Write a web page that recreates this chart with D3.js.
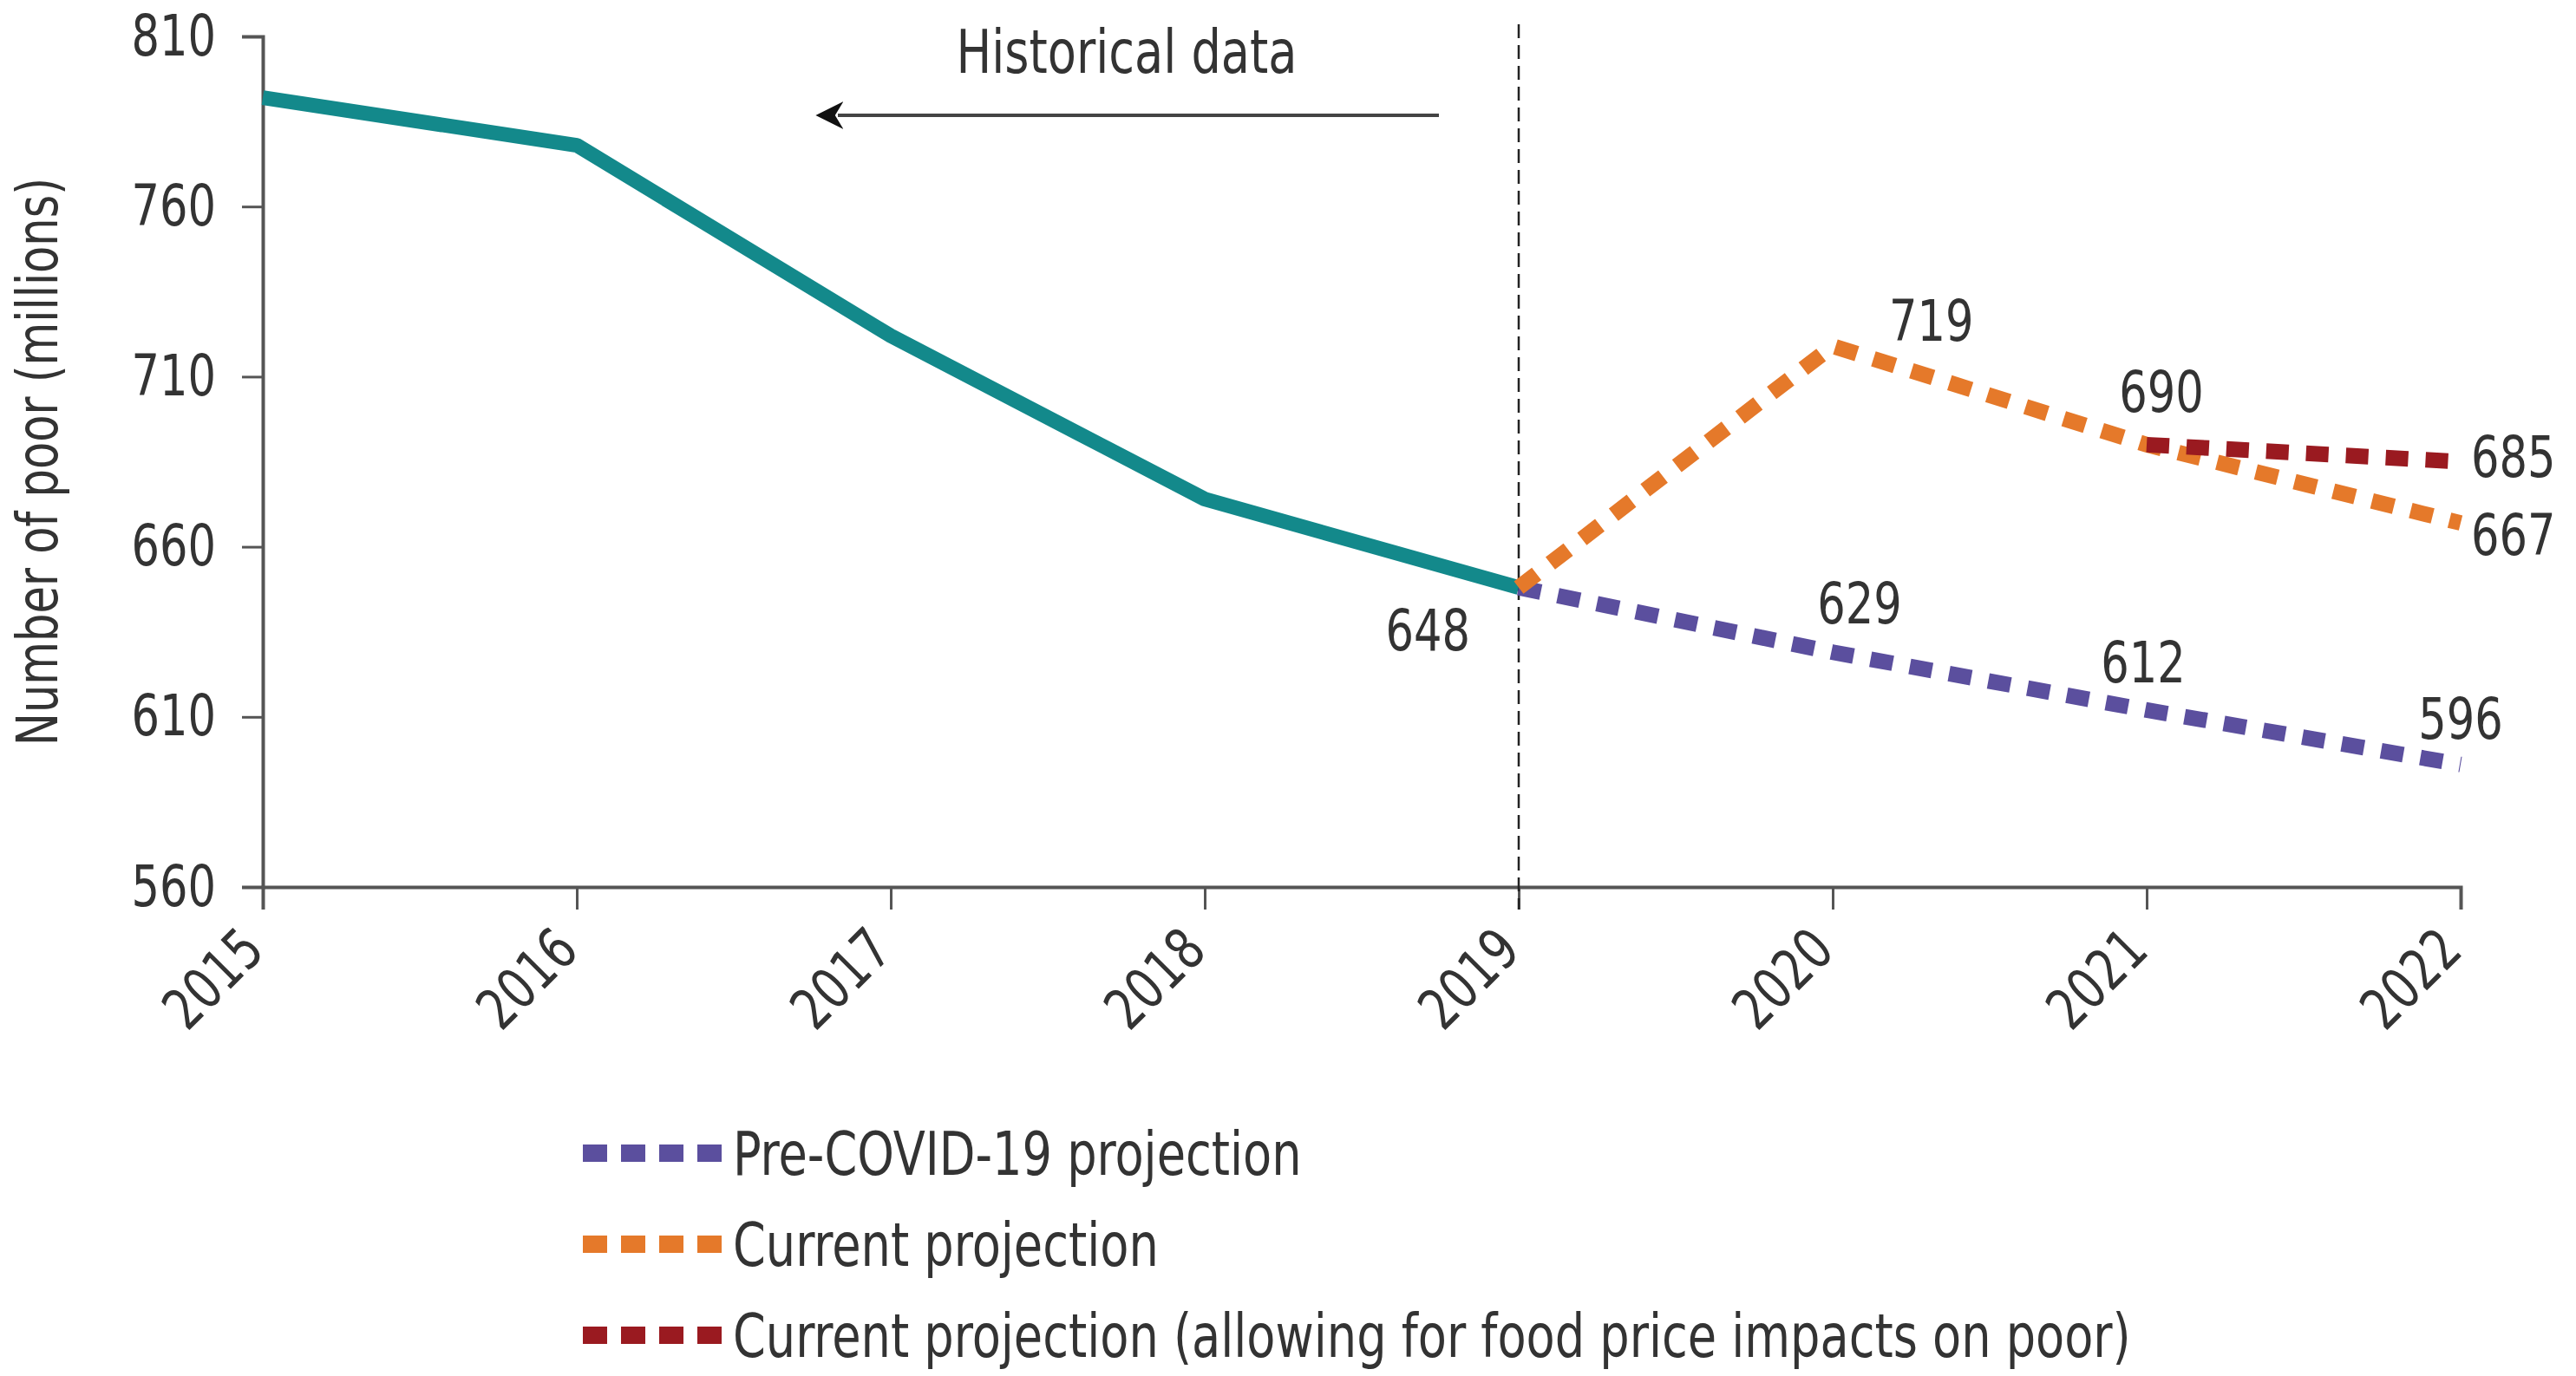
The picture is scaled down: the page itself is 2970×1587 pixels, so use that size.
<!DOCTYPE html>
<html>
<head>
<meta charset="utf-8">
<script src="https://cdn.jsdelivr.net/npm/d3@7"></script>
<style>
  body { margin: 0; background: #fff; }
  svg text { font-family: "Liberation Sans Narrow", "DejaVu Sans Condensed", sans-serif; fill: #333; }
</style>
</head>
<body>
<div id="chart"></div>
<script>
// data
const years = [2015, 2016, 2017, 2018, 2019, 2020, 2021, 2022];
const yTicks = [560, 610, 660, 710, 760, 810];

const historicalYears = [2015, 2016, 2017, 2018, 2019];
const historicalValues = [792, 778, 722, 674, 648];

const preCovidYears = [2019, 2020, 2021, 2022];
const preCovidValues = [648, 629, 612, 596];

const currentYears = [2019, 2020, 2021, 2022];
const currentValues = [648, 719, 690, 667];

const foodYears = [2021, 2022];
const foodValues = [690, 685];

const legendLabels = [
    "Pre-COVID-19 projection",
    "Current projection",
    "Current projection (allowing for food price impacts on poor)"
];

const colors = {
    historical: "#13898b",
    preCovid: "#5b4f9e",
    current: "#e5792a",
    food: "#9a1a20"
};

const width = 2970;
const height = 1587;
const margin = {top: 42, right: 133, bottom: 564, left: 303};

const svg = d3.select("#chart").append("svg")
    .attr("width", width)
    .attr("height", height);

const x = d3.scaleLinear()
    .domain([2015, 2022])
    .range([margin.left, width - margin.right]);

const y = d3.scaleLinear()
    .domain([560, 810])
    .range([height - margin.bottom, margin.top]);

const zip = (xs, vs) => xs.map((d, i) => ({year: d, value: vs[i]}));

const line = d3.line()
    .x(d => x(d.year))
    .y(d => y(d.value));

// axes
const yAxis = svg.append("g")
    .attr("transform", `translate(${margin.left},0)`)
    .call(d3.axisLeft(y).tickValues(yTicks).tickSize(24).tickPadding(30).tickFormat(d3.format("d")));

const xAxis = svg.append("g")
    .attr("transform", `translate(0,${height - margin.bottom})`)
    .call(d3.axisBottom(x).tickValues(years).tickSize(26).tickFormat(d3.format("d")));

[yAxis, xAxis].forEach(g => {
    g.select(".domain").attr("stroke", "#555").attr("stroke-width", 4);
    g.selectAll(".tick line").attr("stroke", "#555").attr("stroke-width", 3);
    g.selectAll("text").style("font-size", "66px").attr("fill", "#333");
});

xAxis.selectAll("text")
    .attr("text-anchor", "end")
    .attr("dy", null)
    .attr("y", 0)
    .attr("transform", "translate(4,76) rotate(-45)");

// y title
svg.append("text")
    .attr("transform", `translate(66,${(margin.top + height - margin.bottom) / 2})`  + " rotate(-90)")
    .attr("text-anchor", "middle")
    .style("font-size", "66px")
    .text("Number of poor (millions)");

// divider at 2019
svg.append("line")
    .attr("x1", x(2019)).attr("x2", x(2019))
    .attr("y1", 28).attr("y2", height - margin.bottom + 26)
    .attr("stroke", "#222")
    .attr("stroke-width", 2.5)
    .attr("stroke-dasharray", "16 8");

// historical data arrow
svg.append("defs").append("marker")
    .attr("id", "arrow")
    .attr("viewBox", "0 0 10 10")
    .attr("refX", 2).attr("refY", 5)
    .attr("markerWidth", 8).attr("markerHeight", 8)
    .attr("markerUnits", "strokeWidth")
    .attr("orient", "auto-start-reverse")
    .append("path")
    .attr("d", "M0,0 L10,5 L0,10 L3,5 Z")
    .attr("fill", "#111");

svg.append("line")
    .attr("x1", 1659).attr("x2", 966)
    .attr("y1", 133).attr("y2", 133)
    .attr("stroke", "#444")
    .attr("stroke-width", 4)
    .attr("marker-end", "url(#arrow)");

svg.append("text")
    .attr("x", 1299).attr("y", 84)
    .attr("text-anchor", "middle")
    .style("font-size", "70px")
    .text("Historical data");

// lines
svg.append("path")
    .datum(zip(historicalYears, historicalValues))
    .attr("d", line)
    .attr("fill", "none")
    .attr("stroke", colors.historical)
    .attr("stroke-width", 17)
    .attr("stroke-linejoin", "round");

const dashed = [
    {data: zip(preCovidYears, preCovidValues), color: colors.preCovid},
    {data: zip(currentYears, currentValues), color: colors.current},
    {data: zip(foodYears, foodValues), color: colors.food}
];

svg.selectAll(".proj")
    .data(dashed)
    .enter()
    .append("path")
    .attr("class", "proj")
    .attr("d", d => line(d.data))
    .attr("fill", "none")
    .attr("stroke", d => d.color)
    .attr("stroke-width", 18)
    .attr("stroke-dasharray", "26 20");

// value labels: [year, value, dx, dy, anchor]
const labels = [
    [2019, 648, -56, 72, "end"],
    [2020, 719, 65, -6, "start"],
    [2021, 690, 17, -38, "middle"],
    [2022, 685, 12, 17, "start"],
    [2022, 667, 12, 37, "start"],
    [2020, 629, 31, -33, "middle"],
    [2021, 612, -4, -32, "middle"],
    [2022, 596, 0, -30, "middle"]
];

svg.selectAll(".vlabel")
    .data(labels)
    .enter()
    .append("text")
    .attr("class", "vlabel")
    .attr("x", d => x(d[0]) + d[2])
    .attr("y", d => y(d[1]) + d[3])
    .attr("text-anchor", d => d[4])
    .style("font-size", "66px")
    .text(d => d[1]);

// legend
const legend = svg.append("g").attr("transform", "translate(672,1330)");
const legendColors = [colors.preCovid, colors.current, colors.food];

const item = legend.selectAll(".item")
    .data(legendLabels)
    .enter()
    .append("g")
    .attr("class", "item")
    .attr("transform", (d, i) => `translate(0,${i * 105})`);

item.append("line")
    .attr("x1", 0).attr("x2", 160)
    .attr("stroke", (d, i) => legendColors[i])
    .attr("stroke-width", 20)
    .attr("stroke-dasharray", "28 16");

item.append("text")
    .attr("x", 173)
    .attr("y", 25)
    .style("font-size", "70px")
    .text(d => d);

// the original uses a condensed face, squeeze the text to match
svg.selectAll("text").each(function() {
    const w = this.getComputedTextLength();
    d3.select(this)
        .attr("textLength", w * 0.86)
        .attr("lengthAdjust", "spacingAndGlyphs");
});
</script>
</body>
</html>
